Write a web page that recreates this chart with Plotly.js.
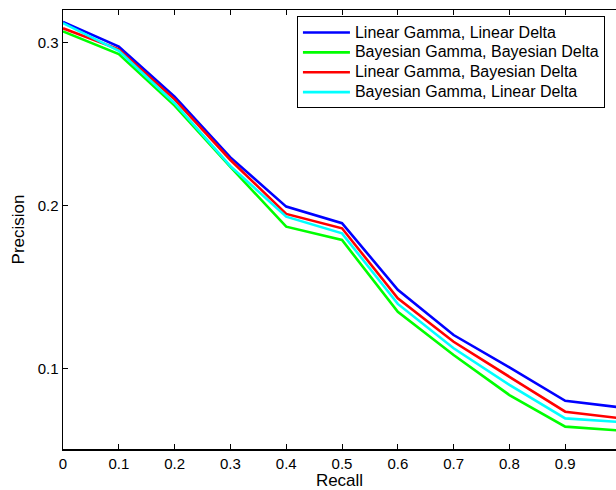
<!DOCTYPE html>
<html>
<head>
<meta charset="utf-8">
<script src="https://cdn.plot.ly/plotly-3.0.1.min.js"></script>
<style>
  html, body { margin: 0; padding: 0; background: #ffffff; overflow: hidden; }
  #chart { width: 616px; height: 490px; }
</style>
</head>
<body>
<div id="chart"></div>
<script>
// Recall levels on the x axis
const recall = [0, 0.1, 0.2, 0.3, 0.4, 0.5, 0.6, 0.7, 0.8, 0.9, 1.0];

// Interpolated precision for each model combination
const linGammaLinDelta = [0.3125, 0.2973, 0.2666, 0.2294, 0.1992, 0.1890, 0.1482, 0.1204, 0.1006, 0.0801, 0.0760];
const bayGammaBayDelta = [0.3067, 0.2928, 0.2612, 0.2235, 0.1869, 0.1787, 0.1347, 0.1082, 0.0836, 0.0642, 0.0618];
const linGammaBayDelta = [0.3086, 0.2957, 0.2650, 0.2278, 0.1947, 0.1859, 0.1429, 0.1163, 0.0948, 0.0734, 0.0693];
const bayGammaLinDelta = [0.3118, 0.2948, 0.2626, 0.2240, 0.1930, 0.1828, 0.1395, 0.1123, 0.0898, 0.0693, 0.0670];

const seriesNames = [
  "Linear Gamma, Linear Delta",
  "Bayesian Gamma, Bayesian Delta",
  "Linear Gamma, Bayesian Delta",
  "Bayesian Gamma, Linear Delta"
];
const seriesValues = [linGammaLinDelta, bayGammaBayDelta, linGammaBayDelta, bayGammaLinDelta];
const seriesColors = ["#0000ff", "#00ff00", "#ff0000", "#00ffff"];

const xTicks = [0, 0.1, 0.2, 0.3, 0.4, 0.5, 0.6, 0.7, 0.8, 0.9];
const xTickText = ["0", "0.1", "0.2", "0.3", "0.4", "0.5", "0.6", "0.7", "0.8", "0.9"];
const yTicks = [0.1, 0.2, 0.3];
const yTickText = ["0.1", "0.2", "0.3"];

const FONT = "'Liberation Sans', Arial, Helvetica, sans-serif";

// Legend rows are spaced from legend.font.size, so the entry text itself
// is set a little larger to keep the rows compact.
const legendLabel = (s) => `<span style="font-size:16px">${s}</span>`;

const traces = seriesValues.map((vals, i) => ({
  type: "scatter",
  mode: "lines",
  x: recall,
  y: vals,
  name: legendLabel(seriesNames[i]),
  line: { color: seriesColors[i], width: 2.6 },
  hoverinfo: "skip"
}));

const layout = {
  width: 616,
  height: 490,
  margin: { l: 63, r: 0, t: 10, b: 41, pad: 0 },
  paper_bgcolor: "#ffffff",
  plot_bgcolor: "#ffffff",
  font: { family: FONT, size: 15, color: "#000000" },
  showlegend: true,
  legend: {
    x: 0.98, y: 0.9852, xanchor: "right", yanchor: "top",
    bgcolor: "#ffffff",
    bordercolor: "#000000",
    borderwidth: 1,
    itemwidth: 47,
    font: { family: FONT, size: 13, color: "#000000" },
    tracegroupgap: 0
  },
  xaxis: {
    range: [0, 0.991],
    tickmode: "array",
    tickvals: xTicks,
    ticktext: xTickText,
    ticks: "inside",
    ticklen: 5,
    tickwidth: 1,
    tickcolor: "#000000",
    showline: true,
    linecolor: "#000000",
    linewidth: 1.5,
    mirror: "ticks",
    showgrid: false,
    zeroline: false,
    tickfont: { family: FONT, size: 15, color: "#000000" },
    title: { text: "Recall", font: { family: FONT, size: 17, color: "#000000" }, standoff: 0 },
    automargin: false
  },
  yaxis: {
    range: [0.0505, 0.3198],
    tickmode: "array",
    tickvals: yTicks,
    ticktext: yTickText,
    ticks: "inside",
    ticklen: 5,
    tickwidth: 1,
    tickcolor: "#000000",
    showline: true,
    linecolor: "#000000",
    linewidth: 1.5,
    mirror: false,
    showgrid: false,
    zeroline: false,
    tickfont: { family: FONT, size: 15, color: "#000000" },
    title: { text: "Precision", font: { family: FONT, size: 17, color: "#000000" }, standoff: 8 },
    automargin: false
  }
};

Plotly.newPlot("chart", traces, layout, { displayModeBar: false, staticPlot: true });
</script>
</body>
</html>
